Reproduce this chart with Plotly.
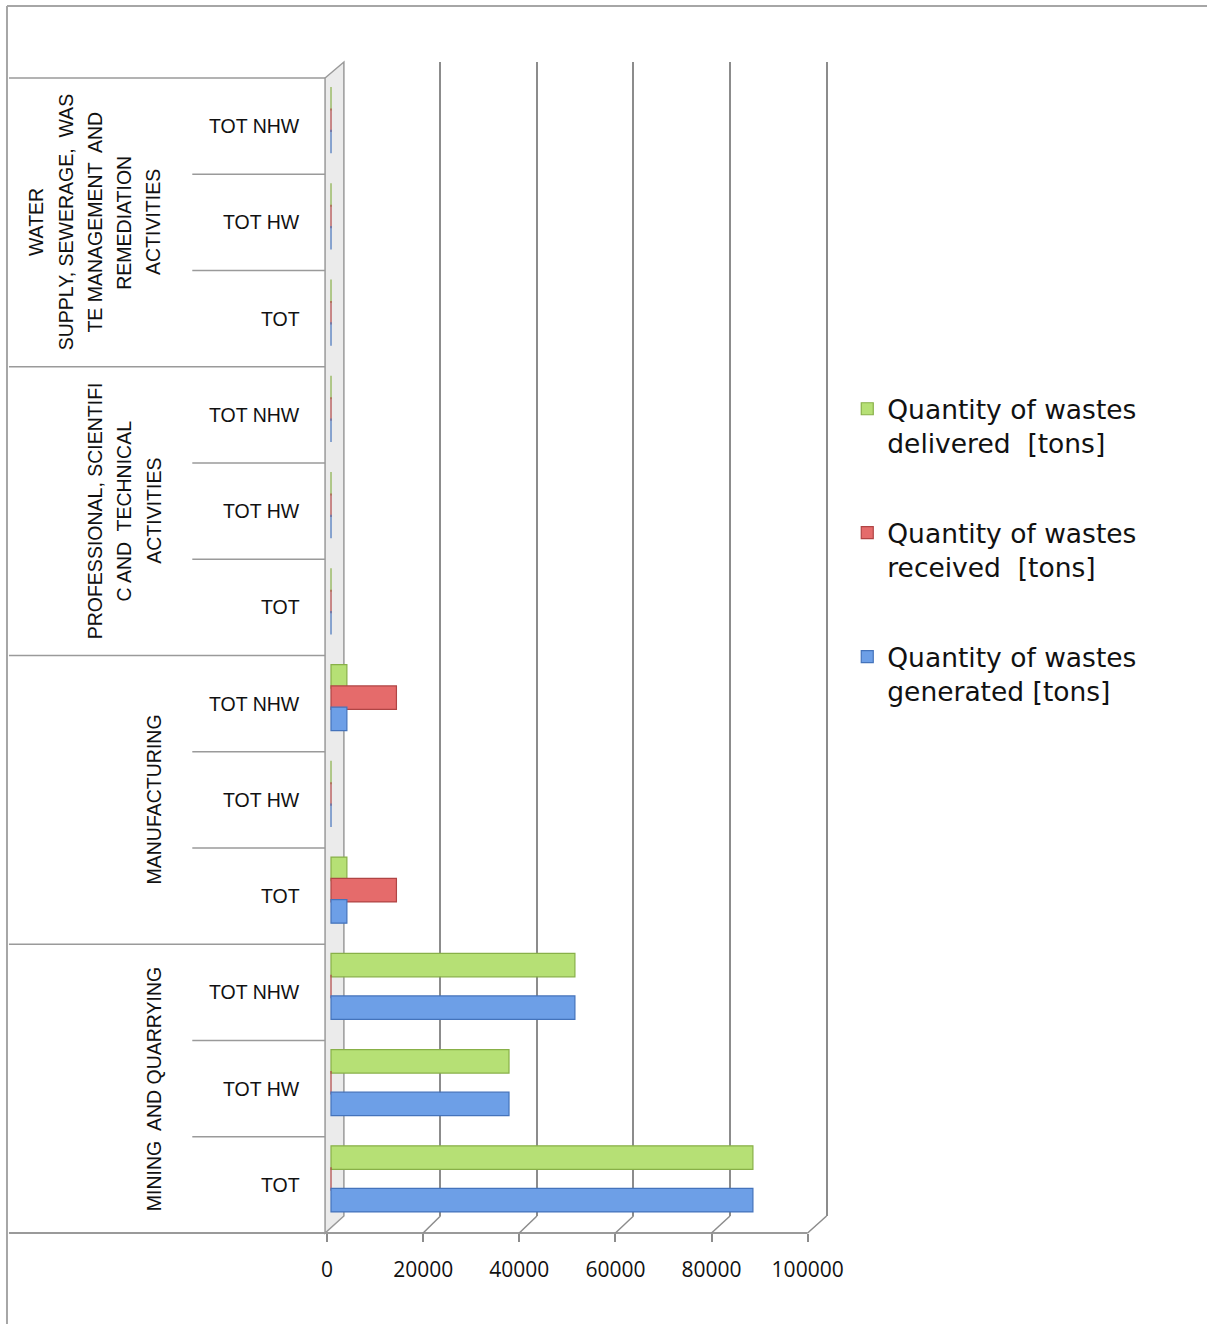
import plotly.graph_objects as go

# ---------------- data ----------------
group_labels = [
    ["MINING  AND QUARRYING"],
    ["MANUFACTURING"],
    ["PROFESSIONAL, SCIENTIFI", "C AND  TECHNICAL", "ACTIVITIES"],
    ["WATER", "SUPPLY, SEWERAGE,  WAS", "TE MANAGEMENT  AND", "REMEDIATION", "ACTIVITIES"],
]
sub_labels = ["TOT", "TOT HW", "TOT NHW"]

generated = [87700, 37000, 50700, 3300, 0, 3300, 0, 0, 0, 0, 0, 0]
received = [0, 0, 0, 13600, 0, 13600, 0, 0, 0, 0, 0, 0]
delivered = [87700, 37000, 50700, 3300, 0, 3300, 0, 0, 0, 0, 0, 0]

name_delivered = "Quantity of wastes<br>delivered  [tons]"
name_received = "Quantity of wastes<br>received  [tons]"
name_generated = "Quantity of wastes<br>generated [tons]"

x_ticks = [0, 20000, 40000, 60000, 80000, 100000]

# ---------------- layout geometry (pixels) ----------------
FIG_W, FIG_H = 1207, 1324
PLOT_L, PLOT_R = 324, 840
FRONT_BOTTOM, FRONT_TOP = 1233, 78
BACK_BOTTOM, BACK_TOP = 1216, 62
FRONT_X0, FRONT_S = 324, 4.85 / 1000
BAR_X0, BAR_S = 328, 4.855 / 1000
BACK_X0, BACK_S = 341, 4.871 / 1000
LIFT = 6
n_cat = len(generated)
CAT = (FRONT_BOTTOM - FRONT_TOP) / n_cat

GRID = "#8c8c8c"
TXT = "#111111"
LAB_FONT = dict(family="Liberation Sans, Arial, sans-serif", size=19.5, color=TXT)


def xp(px):
    return px / FIG_W


def yp(py):
    return 1 - py / FIG_H


def xrange_for(x0, s):
    return [(PLOT_L - x0) / s, (PLOT_R - x0) / s]


def front_px(v):
    return FRONT_X0 + v * FRONT_S


def back_px(v):
    return BACK_X0 + v * BACK_S


y_pos = list(range(n_cat))
ya = -0.5 - LIFT / CAT
yb = ya + (FRONT_BOTTOM - BACK_TOP) / CAT

pitch = 21.3 / CAT
bw = 23.5 / CAT

fig = go.Figure()

# back-wall gridline subplot (x / y)
fig.add_trace(go.Scatter(x=[], y=[], xaxis="x", yaxis="y", showlegend=False, hoverinfo="skip"))
# front tick-label axis (x3 over y2)
fig.add_trace(go.Scatter(x=x_ticks, y=[0] * len(x_ticks), xaxis="x3", yaxis="y2", mode="markers",
                         marker=dict(opacity=0), showlegend=False, hoverinfo="skip"))

series = [
    (name_delivered, delivered, "#b6e075", "#88b048", 1),
    (name_received, received, "#e56b6b", "#b04444", 0),
    (name_generated, generated, "#6d9fe7", "#4473bb", -1),
]
for name, vals, col, edge, k in series:
    fig.add_trace(go.Bar(
        name=name, x=vals, y=y_pos, orientation="h",
        xaxis="x2", yaxis="y2",
        width=bw, offset=k * pitch - bw / 2,
        marker=dict(color=col, line=dict(color=edge, width=1.2)),
        legendgroup=name,
    ))

FRAME_X = 1
shapes = []
# outer frame (top & left)
shapes.append(dict(type="line", xref="paper", yref="paper", x0=xp(FRAME_X), x1=1.01, y0=yp(6), y1=yp(6),
                   line=dict(color="#a6a6a6", width=2)))
shapes.append(dict(type="line", xref="paper", yref="paper", x0=xp(FRAME_X), x1=xp(FRAME_X), y0=yp(6), y1=-0.01,
                   line=dict(color="#a6a6a6", width=2)))
# side wall
wall = "M {} {} L {} {} L {} {} L {} {} Z".format(
    xp(322), yp(FRONT_TOP), xp(BACK_X0), yp(BACK_TOP), xp(BACK_X0), yp(BACK_BOTTOM), xp(322), yp(FRONT_BOTTOM))
shapes.append(dict(type="path", xref="paper", yref="paper", path=wall, layer="below",
                   fillcolor="#ebebeb", line=dict(color="#9a9a9a", width=1.5)))
# category separators
for k in range(n_cat + 1):
    py = FRONT_BOTTOM - k * CAT
    x0 = 3 if k % 3 == 0 else 188
    shapes.append(dict(type="line", xref="paper", yref="paper", x0=xp(x0), x1=xp(322), y0=yp(py), y1=yp(py),
                       line=dict(color="#9a9a9a", width=1.5)))
# front floor edge
shapes.append(dict(type="line", xref="paper", yref="paper", x0=xp(3), x1=xp(front_px(x_ticks[-1])),
                   y0=yp(FRONT_BOTTOM), y1=yp(FRONT_BOTTOM), line=dict(color="#9a9a9a", width=2)))
# floor diagonals
for v in x_ticks[1:]:
    shapes.append(dict(type="line", xref="paper", yref="paper", x0=xp(front_px(v)), x1=xp(back_px(v)),
                       y0=yp(FRONT_BOTTOM), y1=yp(BACK_BOTTOM), line=dict(color=GRID, width=1.5)))

annotations = []
for i in range(n_cat):
    py = FRONT_BOTTOM - (i + 0.5) * CAT
    annotations.append(dict(text=sub_labels[i % 3], xref="paper", yref="paper", x=xp(299), y=yp(py),
                            xanchor="right", yanchor="middle", showarrow=False, font=LAB_FONT))
LAST_X, GAP = 149, 29.5
for g, lines in enumerate(group_labels):
    py = FRONT_BOTTOM - (3 * g + 1.5) * CAT
    n = len(lines)
    for j, t in enumerate(lines):
        px = LAST_X - (n - 1 - j) * GAP
        annotations.append(dict(text=t, xref="paper", yref="paper", x=xp(px), y=yp(py),
                                xanchor="center", yanchor="middle", textangle=-90,
                                showarrow=False, font=LAB_FONT))

fig.update_layout(
    width=FIG_W, height=FIG_H, autosize=False,
    margin=dict(l=0, r=0, t=0, b=0, pad=0),
    paper_bgcolor="white", plot_bgcolor="rgba(0,0,0,0)",
    barmode="overlay",
    showlegend=True,
    xaxis=dict(domain=[xp(PLOT_L), xp(PLOT_R)], range=xrange_for(BACK_X0, BACK_S), anchor="y",
               tickvals=x_ticks[1:], showticklabels=False, ticks="", showgrid=True,
               gridcolor=GRID, gridwidth=2, zeroline=False, showline=False, fixedrange=True),
    yaxis=dict(domain=[yp(BACK_BOTTOM), yp(BACK_TOP)], range=[0, 1], visible=False, anchor="x"),
    xaxis2=dict(domain=[xp(PLOT_L), xp(PLOT_R)], range=xrange_for(BAR_X0, BAR_S), anchor="y2",
                visible=False),
    yaxis2=dict(domain=[yp(FRONT_BOTTOM), yp(BACK_TOP)], range=[ya, yb], anchor="x2", visible=False),
    xaxis3=dict(overlaying="x2", anchor="y2", side="bottom", range=xrange_for(FRONT_X0, FRONT_S),
                tickvals=x_ticks, ticktext=[str(v) for v in x_ticks], ticks="outside", ticklen=8,
                tickwidth=1.5, tickcolor=GRID, showgrid=False, zeroline=False, showline=False,
                ticklabelstandoff=10,
                tickfont=dict(family="Open Sans, sans-serif", size=21, color=TXT)),
    legend=dict(x=xp(849), y=yp(385), xanchor="left", yanchor="top", traceorder="grouped",
                tracegroupgap=52, valign="top", bgcolor="rgba(0,0,0,0)",
                font=dict(family="DejaVu Sans, sans-serif", size=26.5, color=TXT)),
    shapes=shapes,
    annotations=annotations,
)

fig.write_html("out.html")
